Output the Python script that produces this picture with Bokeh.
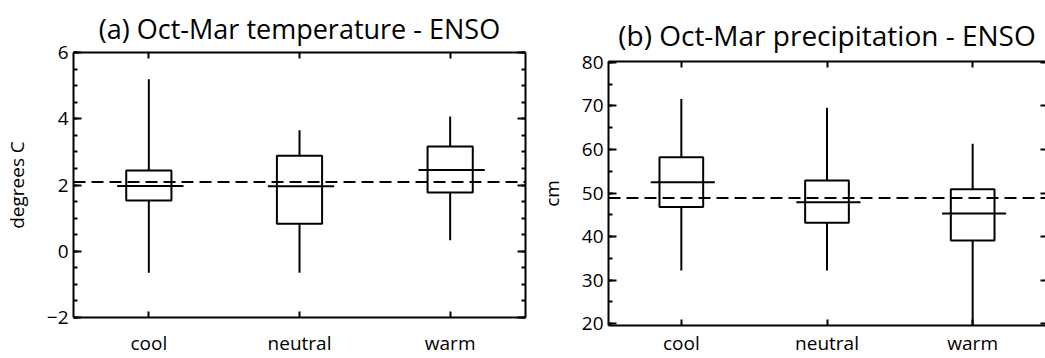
from bokeh.plotting import figure
from bokeh.layouts import row, column
from bokeh.models import Range1d, LinearAxis, FixedTicker, SingleIntervalTicker, Span
from bokeh.embed import file_html
from bokeh.resources import INLINE
import numpy as np

categories = ["cool", "neutral", "warm"]

# (a) Oct-Mar temperature (degrees C)
temp_low = [-0.65, -0.65, 0.33]
temp_q1 = [1.53, 0.83, 1.77]
temp_med = [1.97, 1.96, 2.45]
temp_q3 = [2.44, 2.88, 3.16]
temp_high = [5.19, 3.65, 4.07]
temp_ref = 2.09

# (b) Oct-Mar precipitation (cm)
prec_low = [32.2, 32.2, 19.6]
prec_q1 = [46.8, 43.2, 39.1]
prec_med = [52.5, 47.9, 45.3]
prec_q3 = [58.2, 52.9, 50.9]
prec_high = [71.6, 69.6, 61.3]
prec_ref = 48.85

FONT = "Open Sans"


def panel(title, ylabel, low, q1, med, q3, high, ref, yrange, interval, nminor,
          width, border_left, border_right, border_top, border_bottom, right_crop,
          bottom_standoff, title_standoff, title_size):
    xs = np.arange(len(categories)) + 0.5
    p = figure(width=width, height=358, output_backend="svg", toolbar_location=None,
               x_range=Range1d(0, len(categories)), y_range=Range1d(*yrange),
               min_border_left=border_left, min_border_right=border_right,
               min_border_top=border_top, min_border_bottom=border_bottom,
               x_axis_location=None, y_axis_location=None)
    p.outline_line_color = None
    p.grid.visible = False
    p.background_fill_color = "white"
    p.border_fill_color = "white"

    p.title.text = title
    p.title.align = "center"
    p.title.text_font = FONT
    p.title.text_font_size = title_size
    p.title.text_font_style = "normal"
    p.title.text_color = "black"
    p.title.standoff = title_standoff

    xt = FixedTicker(ticks=list(xs))
    overrides = {float(x): c for x, c in zip(xs, categories)}
    yt = SingleIntervalTicker(interval=interval, num_minor_ticks=nminor)

    def style(ax, labels):
        ax.axis_line_color = "black"
        ax.axis_line_width = 2
        ax.major_tick_line_color = "black"
        ax.major_tick_line_width = 2
        ax.minor_tick_line_color = "black"
        ax.minor_tick_line_width = 2
        ax.major_tick_out = 0
        ax.minor_tick_out = 0
        ax.major_label_text_font = FONT
        ax.major_label_text_color = "black"
        if not labels:
            ax.major_label_text_color = None
            ax.major_label_text_font_size = "1px"
            ax.major_label_standoff = 0

    bottom = LinearAxis(ticker=xt, major_label_overrides=overrides)
    style(bottom, True)
    bottom.major_tick_in = 6
    bottom.major_label_text_font_size = "19px"
    bottom.major_label_standoff = bottom_standoff
    p.add_layout(bottom, "below")

    top = LinearAxis(ticker=xt)
    style(top, False)
    top.major_tick_in = 6
    p.add_layout(top, "above")

    left = LinearAxis(ticker=yt, axis_label=ylabel)
    style(left, True)
    left.major_tick_in = 8
    left.minor_tick_in = 4
    left.major_label_text_font_size = "19px"
    left.major_label_standoff = 5
    left.axis_label_text_font = FONT
    left.axis_label_text_font_size = "19px"
    left.axis_label_text_font_style = "normal"
    left.axis_label_text_color = "black"
    left.axis_label_standoff = 14
    p.add_layout(left, "left")

    right = LinearAxis(ticker=yt)
    style(right, False)
    right.major_tick_in = 8 if not right_crop else 5
    right.minor_tick_in = 4 if not right_crop else 0
    if right_crop:
        right.axis_line_color = None
    p.add_layout(right, "right")

    p.add_layout(Span(location=ref, dimension="width", line_color="black",
                      line_width=2, line_dash="12 6"))

    p.segment(x0=xs, y0=q3, x1=xs, y1=high, line_color="black", line_width=2)
    p.segment(x0=xs, y0=low, x1=xs, y1=q1, line_color="black", line_width=2)
    p.quad(left=xs - 0.15, right=xs + 0.15, bottom=q1, top=q3,
           fill_alpha=0, line_color="black", line_width=2)
    p.segment(x0=xs - 0.21, y0=med, x1=xs + 0.23, y1=med, line_color="black", line_width=2)
    return p


pa = panel("(a) Oct-Mar temperature - ENSO", "degrees C", temp_low, temp_q1, temp_med,
           temp_q3, temp_high, temp_ref, (-2, 6), 2, 4,
           535, 73, 10, 52, 39, False, 12, 12, "27px")
pb = panel("(b) Oct-Mar precipitation - ENSO", "cm", prec_low, prec_q1, prec_med,
           prec_q3, prec_high, prec_ref, (19.6, 80.2), 10, 2,
           510, 73, 0, 61, 31, True, 4, 15, "28px")

layout = row(column(pa), column(pb))
open("out.html", "w").write(file_html(layout, INLINE))
